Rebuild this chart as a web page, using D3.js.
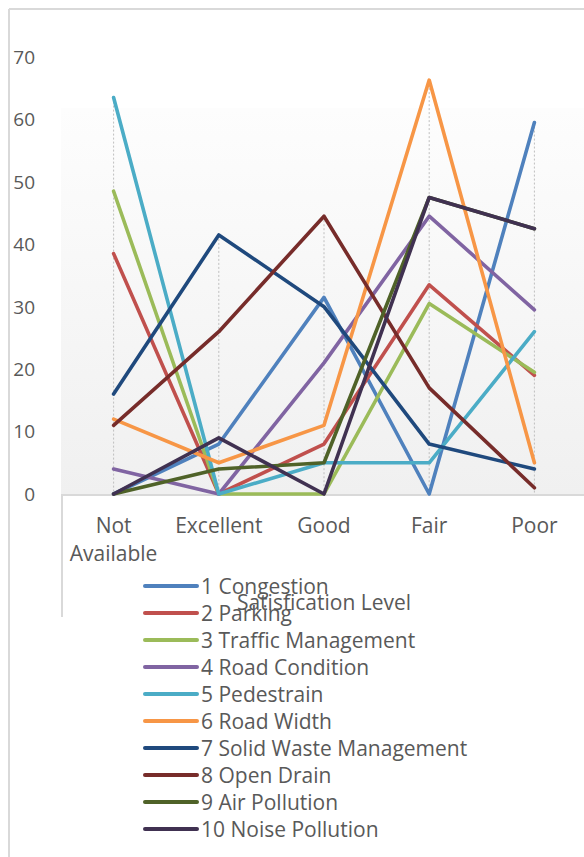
<!DOCTYPE html>
<html>
<head>
<meta charset="utf-8">
<script src="https://cdn.jsdelivr.net/npm/d3@7"></script>
<style>
  html, body { margin: 0; padding: 0; background: #fff; }
  svg { display: block; }
  text { font-family: "Open Sans", "Noto Sans", sans-serif; fill: #595959; }
</style>
</head>
<body>
<script>
// Satisfaction levels along the x axis
const categories = ["Not Available", "Excellent", "Good", "Fair", "Poor"];

// Share of respondents (%) per satisfaction level, one array per issue
const congestion        = [0, 8, 31.5, 0, 59.5];
const parking           = [38.5, 0, 8, 33.5, 19];
const trafficManagement = [48.5, 0, 0, 30.5, 19.5];
const roadCondition     = [4, 0, 21, 44.5, 29.5];
const pedestrain        = [63.5, 0, 5, 5, 26];
const roadWidth         = [12, 5, 11, 66.3, 5];
const solidWaste        = [16, 41.5, 30, 8, 4];
const openDrain         = [11, 26, 44.5, 17, 1];
const airPollution      = [0, 4, 5, 47.5, 42.5];
const noisePollution    = [0, 9, 0, 47.5, 42.5];

const seriesNames = [
  "1 Congestion", "2 Parking", "3 Traffic Management", "4 Road Condition",
  "5 Pedestrain", "6 Road Width", "7 Solid Waste Management", "8 Open Drain",
  "9 Air Pollution", "10 Noise Pollution"
];
const seriesColors = [
  "#4f81bd", "#c0504d", "#9bbb59", "#8064a2", "#4bacc6",
  "#f79646", "#1f497d", "#772c2a", "#4f6228", "#403151"
];
const yTicks = [0, 10, 20, 30, 40, 50, 60, 70];
const axisTitle = "Satisfication Level";

const series = [
  congestion, parking, trafficManagement, roadCondition, pedestrain,
  roadWidth, solidWaste, openDrain, airPollution, noisePollution
].map((values, i) => ({ name: seriesNames[i], color: seriesColors[i], values }));

const W = 584, H = 857;
const FS = 21, FS_Y = 19;
const svg = d3.select("body").append("svg").attr("width", W).attr("height", H);

const x = d3.scaleBand().domain(categories).range([61, 587]);
const y = d3.scaleLinear().domain([0, 70]).range([494, 57]);
const cx = c => x(c) + x.bandwidth() / 2;

// Chart frame
svg.append("line").attr("x1", 9).attr("x2", W).attr("y1", 9).attr("y2", 9)
  .attr("stroke", "#d9d9d9").attr("stroke-width", 2);
svg.append("line").attr("x1", 9).attr("x2", 9).attr("y1", 9).attr("y2", H)
  .attr("stroke", "#d9d9d9").attr("stroke-width", 2);

// Plot area with soft vertical gradient
const defs = svg.append("defs");
const grad = defs.append("linearGradient").attr("id", "plotFill")
  .attr("x1", 0).attr("x2", 0).attr("y1", 0).attr("y2", 1);
grad.append("stop").attr("offset", "0%").attr("stop-color", "#fdfdfd");
grad.append("stop").attr("offset", "100%").attr("stop-color", "#f0f0f0");
svg.append("rect").attr("x", 61).attr("y", 108).attr("width", W - 61).attr("height", 494 - 108)
  .attr("fill", "url(#plotFill)");

// Y axis labels
svg.append("g").selectAll("text").data(yTicks).join("text")
  .attr("x", 35).attr("y", d => y(d)).attr("dy", "0.36em")
  .attr("text-anchor", "end").attr("font-size", FS_Y).text(d => d);

// Drop lines from the highest point of each category to the axis
svg.append("g").selectAll("line").data(categories).join("line")
  .attr("x1", c => cx(c)).attr("x2", c => cx(c))
  .attr("y1", (c, i) => y(d3.max(series, s => s.values[i])))
  .attr("y2", y(0))
  .attr("stroke", "#bfbfbf").attr("stroke-width", 1).attr("stroke-dasharray", "2,2");

// X axis line and the frame edge below it
svg.append("line").attr("x1", 61).attr("x2", W).attr("y1", y(0) + 1).attr("y2", y(0) + 1)
  .attr("stroke", "#d9d9d9").attr("stroke-width", 2);
svg.append("line").attr("x1", 62).attr("x2", 62).attr("y1", y(0)).attr("y2", 617)
  .attr("stroke", "#d9d9d9").attr("stroke-width", 2);

// Category labels (wrapped on spaces for "Not Available")
const catG = svg.append("g");
categories.forEach(c => {
  const words = c.split(" ");
  const t = catG.append("text").attr("text-anchor", "middle").attr("font-size", FS)
    .attr("x", cx(c)).attr("y", 533);
  words.forEach((w, k) => {
    t.append("tspan").attr("x", cx(c)).attr("dy", k === 0 ? 0 : 28).text(w);
  });
});

// Series lines
const line = d3.line().x((d, i) => cx(categories[i])).y(d => y(d));
svg.append("g").selectAll("path").data(series).join("path")
  .attr("d", s => line(s.values))
  .attr("fill", "none").attr("stroke", s => s.color).attr("stroke-width", 3.6)
  .attr("stroke-linejoin", "round").attr("stroke-linecap", "round");

// Legend
const lg = svg.append("g").selectAll("g").data(series).join("g")
  .attr("transform", (s, i) => `translate(0, ${586 + i * 27})`);
lg.append("line").attr("x1", 145).attr("x2", 197).attr("y1", 0).attr("y2", 0)
  .attr("stroke", s => s.color).attr("stroke-width", 4).attr("stroke-linecap", "round");
lg.append("text").attr("x", 201).attr("y", 0).attr("dy", "0.36em").attr("font-size", FS)
  .text(s => s.name);

// Axis title
svg.append("text").attr("x", 324).attr("y", 602).attr("dy", "0.36em")
  .attr("text-anchor", "middle").attr("font-size", FS).text(axisTitle);
</script>
</body>
</html>
